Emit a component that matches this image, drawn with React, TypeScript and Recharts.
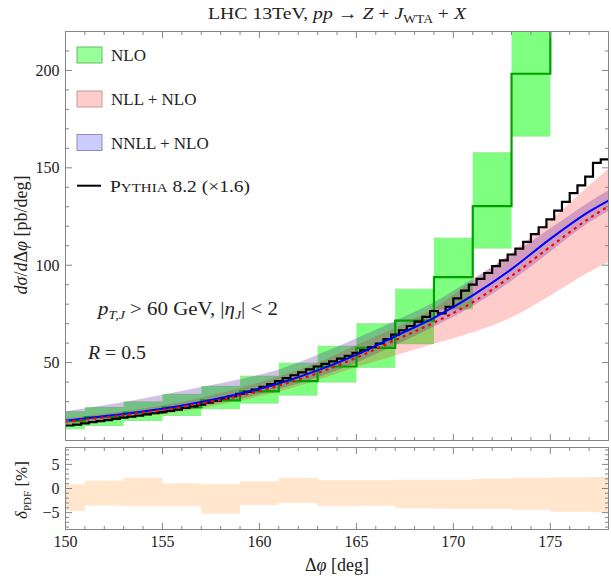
import React from "react";
import { Area, ComposedChart, Line, XAxis, YAxis } from "recharts";

const FONT = "'Liberation Serif', 'DejaVu Serif', serif";

// NLO fixed order, 2-degree bins (lower edges + closing edge)
const nloEdges = [149, 151, 153, 155, 157, 159, 161, 163, 165, 167, 169, 171, 173, 175, 177];
const nloCentral = [20.0, 22.0, 24.2, 27.0, 30.6, 35.2, 40.5, 48.0, 57.6, 71.6, 93.9, 130.3, 198.3, 320];
const nloLow = [16.0, 17.7, 20.3, 22.9, 26.3, 29.2, 33.3, 40.0, 47.6, 59.7, 77.6, 108.8, 166.3, 265];
const nloHigh = [24.8, 27.0, 29.8, 33.7, 37.8, 43.0, 49.7, 58.4, 69.9, 87.7, 113.9, 157.7, 240, 385];

// Pythia 8.2 (x1.6), 0.4-degree bins starting at 150
const pythiaStart = 150;
const pythiaBin = 0.4;
const pythia = [
  17.7, 18.2, 18.8, 19.4, 19.9, 20.5, 21.1, 21.7, 22.3, 22.8,
  23.4, 24.0, 24.6, 25.2, 25.9, 26.7, 27.5, 28.4, 29.4, 30.4,
  31.6, 32.8, 34.0, 35.0, 36.1, 37.5, 39.0, 40.5, 42.0, 43.5,
  45.0, 46.5, 48.0, 49.3, 50.6, 52.0, 53.5, 55.0, 56.4, 58.0,
  59.8, 62.0, 64.4, 66.6, 68.8, 71.0, 73.5, 76.5, 75.3, 78.6,
  83.0, 87.0, 90.0, 93.0, 96.0, 99.5, 102.5, 105.5, 108.5, 112.0,
  116.0, 119.5, 123.5, 128.0, 132.5, 137.0, 141.0, 145.5, 152.5, 154.3,
];

// resummed predictions
const resumDeg = [150, 151, 153, 155, 157, 159, 161, 163, 165, 167, 169, 171, 173, 175, 177, 178];
const nnllCentral = [20.2, 21.3, 23.6, 26.3, 29.8, 34.0, 39.3, 46.0, 54.0, 63.5, 73.0, 84.5, 98.0, 113.5, 127.5, 133.2];
const nnllLow = [18.5, 19.5, 21.8, 24.5, 27.8, 31.5, 36.5, 42.5, 50.0, 59.0, 68.5, 79.0, 92.0, 107.0, 122.0, 128.0];
const nnllHigh = [25.0, 26.5, 29.8, 33.5, 37.5, 41.5, 46.5, 54.0, 62.5, 71.5, 81.0, 93.0, 105.5, 119.0, 132.5, 138.5];
const nllCentral = [19.6, 20.7, 23.0, 25.6, 29.0, 33.0, 38.2, 44.6, 52.5, 61.5, 70.5, 81.0, 94.5, 109.5, 124.0, 130.3];
const nllLow = [18.0, 19.0, 21.3, 23.5, 26.5, 30.5, 35.0, 41.0, 47.7, 53.7, 59.7, 65.6, 73.3, 84.5, 96.5, 101.6];
const nllHigh = [21.5, 22.5, 25.0, 28.0, 32.0, 37.0, 43.0, 50.0, 59.0, 68.0, 78.0, 92.0, 106.5, 123.0, 141.0, 149.5];

// PDF uncertainty [%], 2-degree bins
const pdfEdges = [149, 151, 153, 155, 157, 159, 161, 163, 165, 167, 169, 171, 173, 175, 177, 179];
const pdfHigh = [0.9, 1.6, 2.2, 1.1, 0.9, 1.5, 2.2, 1.7, 1.7, 1.8, 1.8, 2.0, 2.2, 2.3, 2.4];
const pdfLow = [-4.6, -3.5, -3.7, -3.7, -5.2, -3.4, -3.0, -3.7, -3.6, -4.1, -4.2, -4.2, -4.4, -4.8, -4.9];

const xMajor = [150, 155, 160, 165, 170, 175];
const yMajor = [50, 100, 150, 200];
const pdfMajor = [-5, 0, 5];

const X_DOMAIN: [number, number] = [150, 178];
const Y_DOMAIN: [number, number] = [10, 220];
const PDF_DOMAIN: [number, number] = [-8.5, 8.5];

const range = (a: number, b: number, s: number) => {
  const out: number[] = [];
  for (let v = a; v <= b + 1e-9; v += s) out.push(Math.round(v * 100) / 100);
  return out;
};
const xMinor = range(150, 178, 1);
const yMinor = range(10, 220, 10);
const pdfMinor = range(-8, 8, 1);

const nloBoxes = nloCentral.map((_, i) => [
  { x: nloEdges[i], band: [nloLow[i], nloHigh[i]] },
  { x: nloEdges[i + 1], band: [nloLow[i], nloHigh[i]] },
]);
const nloStep = nloEdges.map((x, i) => ({ x, y: nloCentral[Math.min(i, nloCentral.length - 1)] }));
const pythiaData = [
  ...pythia.map((y, i) => ({ x: pythiaStart + pythiaBin * i, y })),
  { x: 178, y: pythia[pythia.length - 1] },
];
const resumData = resumDeg.map((x, i) => ({
  x,
  nnll: nnllCentral[i],
  nll: nllCentral[i],
  nnllBand: [nnllLow[i], nnllHigh[i]],
  nllBand: [nllLow[i], nllHigh[i]],
}));
const pdfData = pdfEdges.map((x, i) => {
  const k = Math.min(i, pdfHigh.length - 1);
  return { x, band: [pdfLow[k], pdfHigh[k]] };
});

const FRAME = "#858585";

type Side = "left" | "right" | "top" | "bottom";

function ticks(side: Side, majors: number[], labels: boolean, fmt = (v: number) => String(v)) {
  return (p: any) => {
    const v = p.payload.value;
    const major = majors.some((m) => Math.abs(m - v) < 1e-6);
    const len = major ? 6.5 : 3.5;
    const { x, y } = p;
    let l;
    if (side === "left") l = <line x1={x} y1={y} x2={x + len} y2={y} stroke={FRAME} />;
    else if (side === "right") l = <line x1={x} y1={y} x2={x - len} y2={y} stroke={FRAME} />;
    else if (side === "top") l = <line x1={x} y1={y} x2={x} y2={y + len} stroke={FRAME} />;
    else l = <line x1={x} y1={y} x2={x} y2={y - len} stroke={FRAME} />;
    let t = null;
    if (labels && major) {
      if (side === "left")
        t = (
          <text x={x - 6} y={y + 5.5} textAnchor="end" fontSize={16} fontFamily={FONT} fill="#222">
            {fmt(v)}
          </text>
        );
      else if (side === "bottom")
        t = (
          <text x={x} y={y + 17} textAnchor="middle" fontSize={16} fontFamily={FONT} fill="#222">
            {fmt(v)}
          </text>
        );
    }
    return (
      <g>
        {l}
        {t}
      </g>
    );
  };
}

const axisCommon = {
  tickSize: 0,
  tickMargin: 0,
  tickLine: false,
  interval: 0 as const,
  allowDataOverflow: true,
  axisLine: { stroke: FRAME },
};

function MainPanel() {
  return (
    <ComposedChart width={611} height={445} margin={{ top: 30.5, right: 1.5, bottom: 3.5, left: 0 }}>
      <XAxis xAxisId="b" dataKey="x" type="number" domain={X_DOMAIN} ticks={xMinor} height={1} {...axisCommon} tick={ticks("bottom", xMajor, false)} />
      <XAxis xAxisId="t" orientation="top" dataKey="x" type="number" domain={X_DOMAIN} ticks={xMinor} height={1} {...axisCommon} tick={ticks("top", xMajor, false)} />
      <YAxis yAxisId="l" type="number" domain={Y_DOMAIN} ticks={yMinor} width={65.5} {...axisCommon} tick={ticks("left", yMajor, true)} />
      <YAxis yAxisId="r" orientation="right" type="number" domain={Y_DOMAIN} ticks={yMinor} width={1} {...axisCommon} tick={ticks("right", yMajor, false)} />

      {nloBoxes.map((box, i) => (
        <Area
          key={"nlo" + i}
          xAxisId="b"
          yAxisId="l"
          data={box}
          dataKey="band"
          type="linear"
          fill="#00ff00"
          fillOpacity={0.5}
          stroke="#8ee88e"
          strokeWidth={1}
          isAnimationActive={false}
          dot={false}
          activeDot={false}
        />
      ))}
      <Area xAxisId="b" yAxisId="l" data={resumData} dataKey="nllBand" type="monotone" fill="#ff0000" fillOpacity={0.2} stroke="none" isAnimationActive={false} dot={false} activeDot={false} />
      <Area xAxisId="b" yAxisId="l" data={resumData} dataKey="nnllBand" type="monotone" fill="#5a1a96" fillOpacity={0.27} stroke="none" isAnimationActive={false} dot={false} activeDot={false} />

      <Line xAxisId="b" yAxisId="l" data={nloStep} dataKey="y" type="stepAfter" stroke="#00a000" strokeWidth={2.2} dot={false} activeDot={false} isAnimationActive={false} />
      <Line xAxisId="b" yAxisId="l" data={pythiaData} dataKey="y" type="stepAfter" stroke="#000" strokeWidth={2.2} dot={false} activeDot={false} isAnimationActive={false} />
      <Line xAxisId="b" yAxisId="l" data={resumData} dataKey="nnll" type="monotone" stroke="#0000ff" strokeWidth={2} dot={false} activeDot={false} isAnimationActive={false} />
      <Line xAxisId="b" yAxisId="l" data={resumData} dataKey="nll" type="monotone" stroke="#ff0000" strokeWidth={2.2} strokeDasharray="3 4" dot={false} activeDot={false} isAnimationActive={false} />
    </ComposedChart>
  );
}

function PdfPanel() {
  return (
    <ComposedChart width={611} height={136} margin={{ top: 6.5, right: 1.5, bottom: 45.5, left: 0 }}>
      <XAxis xAxisId="b" dataKey="x" type="number" domain={X_DOMAIN} ticks={xMinor} height={1} {...axisCommon} tick={ticks("bottom", xMajor, true)} />
      <XAxis xAxisId="t" orientation="top" dataKey="x" type="number" domain={X_DOMAIN} ticks={xMinor} height={1} {...axisCommon} tick={ticks("top", xMajor, false)} />
      <YAxis yAxisId="l" type="number" domain={PDF_DOMAIN} ticks={pdfMinor} width={65.5} {...axisCommon} tick={ticks("left", pdfMajor, true, (v) => (v < 0 ? "\u2212" + Math.abs(v) : String(v)))} />
      <YAxis yAxisId="r" orientation="right" type="number" domain={PDF_DOMAIN} ticks={pdfMinor} width={1} {...axisCommon} tick={ticks("right", pdfMajor, false)} />
      <Area xAxisId="b" yAxisId="l" data={pdfData} dataKey="band" type="stepAfter" fill="#ff8000" fillOpacity={0.2} stroke="none" isAnimationActive={false} dot={false} activeDot={false} />
    </ComposedChart>
  );
}

function Overlay() {
  const t = { fontFamily: FONT, fill: "#222" };
  return (
    <svg width={611} height={576} style={{ position: "absolute", left: 0, top: 0, pointerEvents: "none" }}>
      {/* title */}
      <text x={337} y={19} textAnchor="middle" fontSize={17.5} textLength={258} lengthAdjust="spacingAndGlyphs" {...t}>
        LHC 13TeV,{"  "}
        <tspan fontStyle="italic">pp</tspan> → <tspan fontStyle="italic">Z</tspan> + <tspan fontStyle="italic">J</tspan>
        <tspan fontSize={12} dy={4}>WTA</tspan>
        <tspan dy={-4}> + </tspan>
        <tspan fontStyle="italic">X</tspan>
      </text>

      {/* legend */}
      <rect x={77} y={47} width={25} height={16} fill="#99ff99" stroke="#66bb66" />
      <text x={111} y={61} fontSize={17} {...t}>NLO</text>
      <rect x={77} y={91} width={25} height={16} fill="#ffcccc" stroke="#c49a9a" />
      <text x={111} y={105} fontSize={17} {...t}>NLL + NLO</text>
      <rect x={77} y={134.5} width={25} height={16} fill="#ccccff" stroke="#8c8cbe" />
      <text x={111} y={148.5} fontSize={17} {...t}>NNLL + NLO</text>
      <line x1={77} y1={185.7} x2={101} y2={185.7} stroke="#000" strokeWidth={2} />
      <text x={110} y={191.5} fontSize={17.5} textLength={140} lengthAdjust="spacingAndGlyphs" {...t}>
        P<tspan fontSize={13.5}>YTHIA</tspan> 8.2 (×1.6)
      </text>

      {/* cuts */}
      <text x={98} y={315} fontSize={18} textLength={180} lengthAdjust="spacingAndGlyphs" {...t}>
        <tspan fontStyle="italic">p</tspan>
        <tspan fontSize={12} fontStyle="italic" dy={4}>T,J</tspan>
        <tspan dy={-4}> &gt; 60 GeV,  |</tspan>
        <tspan fontStyle="italic">η</tspan>
        <tspan fontSize={12} fontStyle="italic" dy={4}>J</tspan>
        <tspan dy={-4}>| &lt; 2</tspan>
      </text>
      <text x={88} y={359} fontSize={18} textLength={58} lengthAdjust="spacingAndGlyphs" {...t}>
        <tspan fontStyle="italic">R</tspan> = 0.5
      </text>

      {/* axis labels */}
      <text transform="translate(27,235) rotate(-90)" textAnchor="middle" fontSize={18} {...t}>
        <tspan fontStyle="italic">dσ</tspan>/<tspan fontStyle="italic">d</tspan>Δ<tspan fontStyle="italic">φ</tspan> [pb/deg]
      </text>
      <text transform="translate(27,490) rotate(-90)" textAnchor="middle" fontSize={17} {...t}>
        <tspan fontStyle="italic">δ</tspan>
        <tspan fontSize={11} dy={4}>PDF</tspan>
        <tspan dy={-4}> [%]</tspan>
      </text>
      <text x={337} y={571} textAnchor="middle" fontSize={18} {...t}>
        Δ<tspan fontStyle="italic">φ</tspan> [deg]
      </text>
    </svg>
  );
}

export default function App() {
  return (
    <div style={{ position: "absolute", left: 0, top: 0, width: 611, height: 576, background: "#fff" }}>
      <div style={{ position: "absolute", left: 0, top: 0 }}>
        <MainPanel />
      </div>
      <div style={{ position: "absolute", left: 0, top: 440 }}>
        <PdfPanel />
      </div>
      <Overlay />
    </div>
  );
}
